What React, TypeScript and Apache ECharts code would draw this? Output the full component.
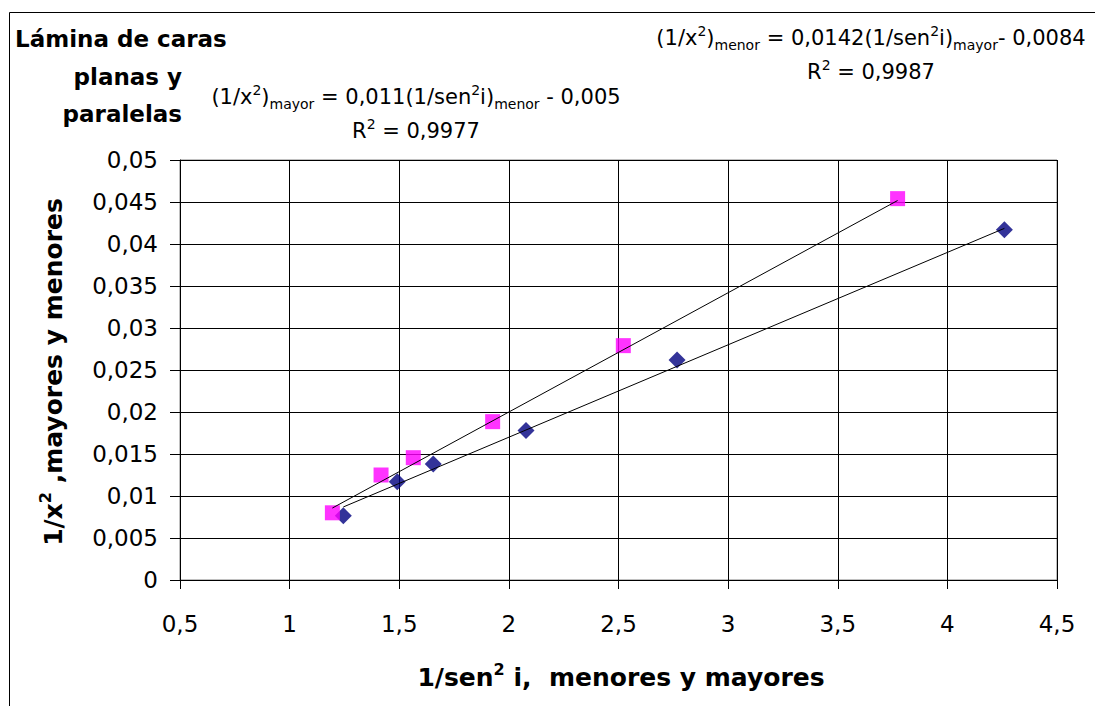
import React, { useEffect, useRef } from 'react';
import * as echarts from 'echarts';

// Data
const mayoresX = [1.245, 1.491, 1.655, 2.078, 2.767, 4.26];
const mayoresY = [0.00765, 0.0117, 0.0138, 0.0178, 0.0262, 0.0417];
const menoresX = [1.195, 1.417, 1.564, 1.926, 2.522, 3.773];
const menoresY = [0.008, 0.0125, 0.01456, 0.01885, 0.0279, 0.0454];

// Trend line coefficients printed on the chart
const mayorTrend = { slope: 0.011, intercept: -0.005 };
const menorTrend = { slope: 0.0142, intercept: -0.0084 };

const xAxisMin = 0.5;
const xAxisMax = 4.5;
const xAxisStep = 0.5;
const yAxisMin = 0;
const yAxisMax = 0.05;
const yAxisStep = 0.005;

const F = 'DejaVu Sans';

function trendPoints(xs: number[], t: { slope: number; intercept: number }) {
  const lo = Math.min(...xs);
  const hi = Math.max(...xs);
  return [
    [lo, t.slope * lo + t.intercept],
    [hi, t.slope * hi + t.intercept],
  ];
}

const fmt = (v: number) => String(+v.toFixed(4)).replace('.', ',');

const eqRich = {
  sup: { fontSize: 14, lineHeight: 14, verticalAlign: 'top', fontFamily: F, fill: '#000' },
  sub: { fontSize: 14, lineHeight: 14, verticalAlign: 'bottom', fontFamily: F, fill: '#000' },
};

function eqText(x: number, y: number, text: string) {
  return {
    type: 'text',
    x,
    y,
    style: {
      text,
      fontSize: 21,
      lineHeight: 28,
      fontFamily: F,
      fill: '#000',
      textAlign: 'center',
      textVerticalAlign: 'middle',
      rich: eqRich,
    },
  };
}

function plainText(x: number, y: number, text: string, align: string, size: number, bold: boolean) {
  return {
    type: 'text',
    x,
    y,
    style: {
      text,
      fontSize: size,
      fontWeight: bold ? 'bold' : 'normal',
      fontFamily: F,
      fill: '#000',
      textAlign: align,
      textVerticalAlign: 'middle',
    },
  };
}

export default function App() {
  const ref = useRef<HTMLDivElement>(null);
  useEffect(() => {
    const chart = echarts.init(ref.current!, null, { renderer: 'svg' });
    const option: any = {
      animation: false,
      backgroundColor: '#fff',
      grid: {
        left: 180,
        top: 160,
        width: 877,
        height: 420,
        show: true,
        borderColor: '#808080',
        borderWidth: 1,
        containLabel: false,
      },
      xAxis: {
        type: 'value',
        min: xAxisMin,
        max: xAxisMax,
        interval: xAxisStep,
        axisLine: { show: true, onZero: false, lineStyle: { color: '#000', width: 1 } },
        axisTick: { show: true, inside: false, length: 9, lineStyle: { color: '#000' } },
        axisLabel: {
          margin: 32,
          fontSize: 23,
          fontFamily: F,
          color: '#000',
          formatter: (v: number) => fmt(v),
        },
        splitLine: { show: true, lineStyle: { color: '#000', width: 1 } },
      },
      yAxis: {
        type: 'value',
        min: yAxisMin,
        max: yAxisMax,
        interval: yAxisStep,
        axisLine: { show: true, onZero: false, lineStyle: { color: '#000', width: 1 } },
        axisTick: { show: true, inside: false, length: 10, lineStyle: { color: '#000' } },
        axisLabel: {
          margin: 22,
          fontSize: 23,
          fontFamily: F,
          color: '#000',
          formatter: (v: number) => fmt(v),
        },
        splitLine: { show: true, lineStyle: { color: '#000', width: 1 } },
      },
      series: [
        {
          name: 'mayores',
          type: 'scatter',
          symbol: 'diamond',
          symbolSize: [17, 17],
          itemStyle: { color: '#000080' },
          data: mayoresX.map((x, i) => [x, mayoresY[i]]),
          z: 3,
        },
        {
          name: 'menores',
          type: 'scatter',
          symbol: 'rect',
          symbolSize: [15, 15],
          itemStyle: { color: '#FF00FF' },
          data: menoresX.map((x, i) => [x, menoresY[i]]),
          z: 3,
        },
        {
          name: 'trend mayores',
          type: 'line',
          showSymbol: false,
          symbol: 'none',
          lineStyle: { color: '#000', width: 1 },
          data: trendPoints(mayoresX, mayorTrend),
          z: 4,
        },
        {
          name: 'trend menores',
          type: 'line',
          showSymbol: false,
          symbol: 'none',
          lineStyle: { color: '#000', width: 1 },
          data: trendPoints(menoresX, menorTrend),
          z: 4,
        },
      ],
      graphic: [
        {
          type: 'rect',
          shape: { x: 9.5, y: 12.5, width: 1200, height: 800 },
          style: { fill: 'none', stroke: '#000', lineWidth: 1 },
          silent: true,
        },
        plainText(15, 39, 'Lámina de caras', 'left', 23, true),
        plainText(182, 77, 'planas y', 'right', 23, true),
        plainText(182, 114, 'paralelas', 'right', 23, true),
        eqText(871, 38, '(1/x{sup|2}){sub|menor} = 0,0142(1/sen{sup|2}i){sub|mayor}- 0,0084'),
        eqText(871, 72, 'R{sup|2} = 0,9987'),
        eqText(416, 97, '(1/x{sup|2}){sub|mayor} = 0,011(1/sen{sup|2}i){sub|menor} - 0,005'),
        eqText(416, 131, 'R{sup|2} = 0,9977'),
        {
          type: 'text',
          x: 621,
          y: 677,
          style: {
            text: '1/sen{sup|2} i,  menores y mayores',
            fontSize: 25,
            fontWeight: 'bold',
            lineHeight: 32,
            fontFamily: F,
            fill: '#000',
            textAlign: 'center',
            textVerticalAlign: 'middle',
            rich: {
              sup: { fontSize: 16, lineHeight: 16, fontWeight: 'bold', verticalAlign: 'top', fontFamily: F, fill: '#000' },
            },
          },
        },
        {
          type: 'text',
          x: 53,
          y: 372,
          rotation: Math.PI / 2,
          style: {
            text: '1/x{sup|2} ,mayores y menores',
            fontSize: 25,
            fontWeight: 'bold',
            lineHeight: 32,
            fontFamily: F,
            fill: '#000',
            textAlign: 'center',
            textVerticalAlign: 'middle',
            rich: {
              sup: { fontSize: 16, lineHeight: 16, fontWeight: 'bold', verticalAlign: 'top', fontFamily: F, fill: '#000' },
            },
          },
        },
      ],
    };
    chart.setOption(option);
    return () => chart.dispose();
  }, []);
  return (
    <div
      ref={ref}
      style={{ position: 'fixed', left: 0, top: 0, width: 1095, height: 706, background: '#fff' }}
    />
  );
}
